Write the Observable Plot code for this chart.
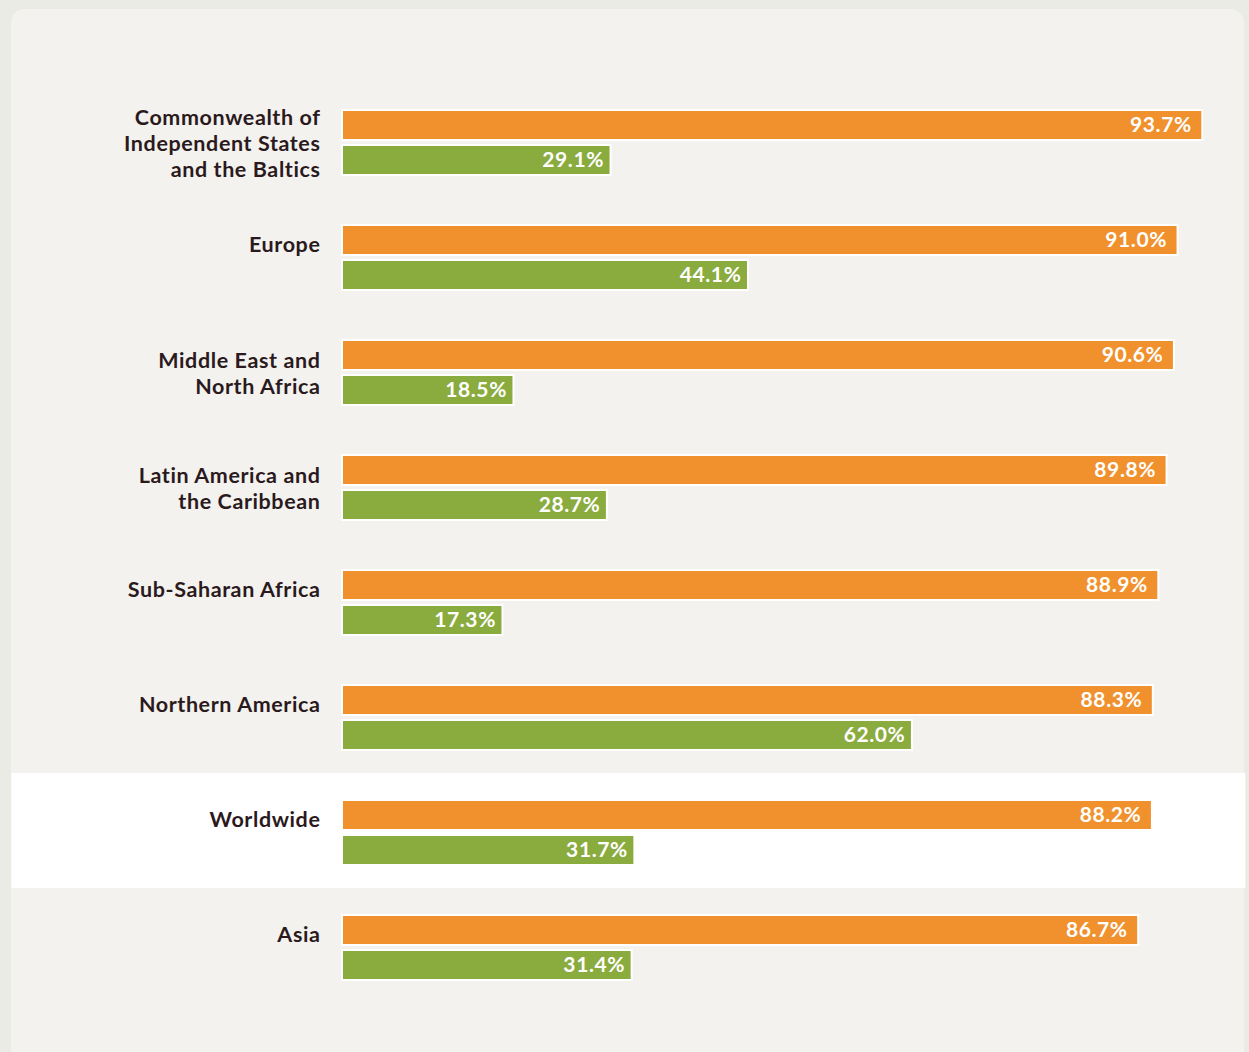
<!DOCTYPE html>
<html>
<head>
<meta charset="utf-8">
<script src="https://cdn.jsdelivr.net/npm/d3@7"></script>
<script src="https://cdn.jsdelivr.net/npm/@observablehq/plot@0.6"></script>
<style>
  html, body { margin: 0; padding: 0; background: #ebebe6; }
  #wrap { position: relative; width: 1249px; height: 1052px; overflow: hidden; }
  #card { position: absolute; left: 11px; top: 9px; width: 1233px; height: 1100px; border-radius: 14px; background: #f3f2ee; }
  #chart { position: absolute; left: 0; top: 0; }
  #chart svg { background: transparent; }
  #chart text { letter-spacing: 0.6px; }
</style>
</head>
<body>
<div id="wrap"><div id="card"></div><div id="chart"></div></div>
<script>
const regions = [
  "Commonwealth of\nIndependent States\nand the Baltics",
  "Europe",
  "Middle East and\nNorth Africa",
  "Latin America and\nthe Caribbean",
  "Sub-Saharan Africa",
  "Northern America",
  "Worldwide",
  "Asia"
];
const orangeValues = [93.7, 91.0, 90.6, 89.8, 88.9, 88.3, 88.2, 86.7];
const greenValues  = [29.1, 44.1, 18.5, 28.7, 17.3, 62.0, 31.7, 31.4];
const highlightRegion = "Worldwide";

const ORANGE = "#f0912d";
const GREEN = "#8aab3e";
const TEXT = "#2b1a1d";

const rows = regions.map((r, i) => ({region: r, orange: orangeValues[i], green: greenValues[i]}));
const fmt = v => v.toFixed(1) + "%";

// highlight band extents (in x data units) to span the card width
const bandFrom = -36.2, bandTo = 98.5;

const chart = Plot.plot({
  width: 1249,
  height: 1052,
  style: {background: "transparent", fontFamily: "Lato, 'Noto Sans', sans-serif"},
  x: {domain: [0, 100], range: [343, 1259], axis: null},
  y: {domain: regions, range: [83, 1003], padding: 0, axis: null},
  marks: [
    Plot.rect([highlightRegion], {y: d => d, x1: bandFrom, x2: bandTo, fill: "white"}),
    Plot.barX(rows, {x1: 0, x2: "orange", y: "region", fill: ORANGE, stroke: "white", strokeWidth: 2,
      insetTop: 27, insetBottom: 58, insetLeft: -1, insetRight: -1}),
    Plot.barX(rows, {x1: 0, x2: "green", y: "region", fill: GREEN, stroke: "white", strokeWidth: 2,
      insetTop: 62, insetBottom: 23, insetLeft: -1, insetRight: -1}),
    Plot.text(rows, {x: "orange", y: "region", text: d => fmt(d.orange), textAnchor: "end", dx: -10, dy: -16,
      fill: "white", fontSize: 21, fontWeight: "bold"}),
    Plot.text(rows, {x: "green", y: "region", text: d => fmt(d.green), textAnchor: "end", dx: -6, dy: 19,
      fill: "white", fontSize: 21, fontWeight: "bold"}),
    Plot.text(rows.filter(d => d.region.includes("\n")), {x: 0, y: "region", text: "region", textAnchor: "end",
      lineAnchor: "middle", lineHeight: 1.2, dx: -23, dy: 2, fill: TEXT, fontSize: 21.5, fontWeight: "bold"}),
    Plot.text(rows.filter(d => !d.region.includes("\n")), {x: 0, y: "region", text: "region", textAnchor: "end",
      lineAnchor: "middle", dx: -23, dy: -11, fill: TEXT, fontSize: 21.5, fontWeight: "bold"})
  ]
});
document.getElementById("chart").appendChild(chart);
</script>
</body>
</html>
